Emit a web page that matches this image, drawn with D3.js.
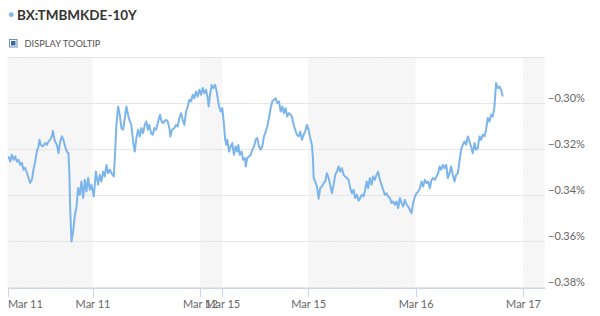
<!DOCTYPE html>
<html lang="en">

<head>
  <meta charset="utf-8">
  <title>BX:TMBMKDE-10Y</title>
  <style>
    body {
      margin: 0;
      background: #fff;
      font-family: Lato, "Open Sans", sans-serif;
    }

    .grid line {
      stroke: #e6e6e6;
      shape-rendering: crispEdges;
    }

    .ylabel {
      fill: #666;
      font-size: 11px;
    }

    .xaxis path,
    .xaxis line {
      stroke: #ccd6eb;
      shape-rendering: crispEdges;
    }

    .xaxis text {
      fill: #666;
      font-size: 11px;
      font-family: Lato, sans-serif;
    }
  </style>
</head>

<body>
  <div id="chart"></div>
</body>
<script src="https://cdnjs.cloudflare.com/ajax/libs/d3/7.8.5/d3.min.js"></script>

<script>

  // hours since the first session, yield in %
  let hours = [
    0.22, 0.60, 0.98, 1.34, 1.72, 2.10, 2.46, 2.84, 3.21, 3.57,
    3.95, 4.33, 5.07, 5.45, 5.80, 6.18, 6.56, 6.92, 7.14, 7.46,
    7.90, 8.42, 8.80, 9.15, 9.53, 9.91, 10.14, 10.43, 10.65, 11.03,
    11.39, 11.77, 12.15, 12.50, 12.88, 13.26, 13.62, 13.84, 14.00, 14.29,
    14.67, 15.05, 15.40, 15.78, 16.16, 16.52, 16.90, 17.28, 17.64, 18.02,
    18.40, 18.75, 19.29, 19.74, 20.25, 20.63, 20.99, 21.37, 21.75, 22.10,
    22.48, 22.86, 23.22, 23.75, 23.98, 24.34, 24.72, 25.09, 25.45, 25.83,
    26.21, 26.57, 26.95, 27.33, 27.68, 28.06, 28.44, 28.80, 29.18, 29.56,
    29.92, 30.30, 30.68, 31.03, 31.35, 31.70, 32.08, 32.46, 32.82, 33.20,
    33.58, 34.09, 34.32, 34.69, 35.05, 35.43, 35.81, 36.17, 36.39, 36.77,
    37.28, 37.66, 38.04, 38.40, 38.78, 39.16, 39.52, 39.90, 40.28, 40.63,
    41.01, 41.39, 41.75, 42.13, 42.51, 42.87, 43.25, 43.62, 43.98, 44.36,
    44.74, 44.96, 45.25, 45.63, 45.99, 46.37, 46.75, 47.20, 47.64, 48.00,
    48.38, 48.60, 48.89, 49.12, 49.50, 49.88, 50.23, 50.61, 50.99, 51.35,
    51.57, 51.89, 52.33, 52.62, 53.07, 53.23, 53.58, 53.96, 54.34, 54.70,
    55.08, 55.46, 55.82, 56.19, 56.57, 56.93, 57.31, 57.69, 58.05, 58.43,
    58.81, 59.16, 59.54, 59.92, 60.28, 60.66, 61.04, 61.40, 61.78, 62.16,
    62.51, 62.89, 63.27, 63.56, 63.94, 64.30, 64.68, 65.06, 65.42, 65.80,
    66.17, 66.53, 66.91, 67.29, 67.65, 68.03, 68.25, 68.41, 68.77, 69.15,
    69.53, 69.88, 70.26, 70.64, 71.00, 71.38, 71.76, 72.11, 72.49, 72.87,
    73.23, 73.61, 73.99, 74.35, 74.73, 75.10, 75.46, 75.84, 76.22, 76.58,
    76.96, 77.34, 77.70, 78.08, 78.46, 78.81, 79.19, 79.57, 79.93, 80.24,
    80.60, 80.98, 81.36, 81.71, 82.09, 82.47, 82.83, 83.21, 83.59, 83.95,
    84.33, 84.71, 85.06, 85.44, 85.82, 86.18, 86.56, 86.94, 87.30, 87.68,
    88.06, 88.42, 88.80, 89.17, 89.53, 89.91, 90.29, 90.65, 91.03, 91.41,
    91.77, 92.15, 92.53, 92.88, 93.26, 93.64, 94.00, 94.38, 94.76, 95.12,
    95.50, 95.88, 96.24, 96.55, 96.91, 97.29, 97.67, 98.03, 98.41, 98.79,
    99.13, 99.51, 99.89, 100.25, 100.63, 101.00, 101.36, 101.74, 102.12, 102.48,
    102.86, 103.24, 103.60, 103.98, 104.36, 104.71, 105.09, 105.47, 105.83, 106.21,
    106.59, 106.94, 107.32, 107.70, 108.06, 108.44, 108.82, 109.17, 109.55, 109.93,
    110.29, 110.67
  ];

  let yields = [
    -0.3230, -0.3252, -0.3223, -0.3245, -0.3230, -0.3253, -0.3245, -0.3267, -0.3258, -0.3288,
    -0.3280, -0.3301, -0.3345, -0.3332, -0.3288, -0.3252, -0.3209, -0.3187, -0.3158, -0.3180,
    -0.3187, -0.3172, -0.3180, -0.3165, -0.3158, -0.3143, -0.3119, -0.3150, -0.3165, -0.3180,
    -0.3216, -0.3165, -0.3143, -0.3158, -0.3187, -0.3209, -0.3216, -0.3310, -0.3453, -0.3600,
    -0.3557, -0.3484, -0.3453, -0.3367, -0.3397, -0.3339, -0.3410, -0.3332, -0.3383, -0.3323,
    -0.3375, -0.3353, -0.3404, -0.3296, -0.3353, -0.3310, -0.3339, -0.3296, -0.3317, -0.3267,
    -0.3303, -0.3288, -0.3303, -0.3317, -0.3237, -0.3093, -0.3013, -0.3049, -0.3107, -0.3114,
    -0.3063, -0.3013, -0.3049, -0.3078, -0.3093, -0.3165, -0.3209, -0.3150, -0.3114, -0.3143,
    -0.3107, -0.3129, -0.3093, -0.3078, -0.3114, -0.3093, -0.3129, -0.3136, -0.3107, -0.3114,
    -0.3085, -0.3049, -0.3071, -0.3085, -0.3078, -0.3071, -0.3078, -0.3107, -0.3143, -0.3114,
    -0.3107, -0.3093, -0.3100, -0.3063, -0.3042, -0.3071, -0.3093, -0.3035, -0.3013, -0.2984,
    -0.2991, -0.2962, -0.2977, -0.2948, -0.2970, -0.2940, -0.2962, -0.2933, -0.2955, -0.2940,
    -0.2977, -0.3013, -0.2962, -0.2919, -0.2933, -0.2919, -0.2948, -0.3006, -0.3035, -0.3020,
    -0.3093, -0.3150, -0.3180, -0.3158, -0.3209, -0.3187, -0.3172, -0.3223, -0.3187, -0.3209,
    -0.3180, -0.3223, -0.3209, -0.3245, -0.3237, -0.3274, -0.3237, -0.3230, -0.3223, -0.3201,
    -0.3187, -0.3158, -0.3150, -0.3187, -0.3201, -0.3187, -0.3143, -0.3122, -0.3100, -0.3063,
    -0.3020, -0.2991, -0.2984, -0.2977, -0.2998, -0.2991, -0.3035, -0.3013, -0.3042, -0.3020,
    -0.3057, -0.3042, -0.3049, -0.3057, -0.3093, -0.3114, -0.3136, -0.3143, -0.3122, -0.3158,
    -0.3136, -0.3122, -0.3093, -0.3114, -0.3150, -0.3180, -0.3237, -0.3324, -0.3339, -0.3361,
    -0.3414, -0.3368, -0.3361, -0.3346, -0.3339, -0.3303, -0.3324, -0.3353, -0.3390, -0.3353,
    -0.3310, -0.3296, -0.3274, -0.3296, -0.3281, -0.3310, -0.3317, -0.3324, -0.3332, -0.3368,
    -0.3390, -0.3375, -0.3411, -0.3397, -0.3423, -0.3411, -0.3397, -0.3404, -0.3375, -0.3339,
    -0.3368, -0.3324, -0.3353, -0.3317, -0.3332, -0.3310, -0.3296, -0.3332, -0.3353, -0.3375,
    -0.3397, -0.3390, -0.3404, -0.3411, -0.3433, -0.3426, -0.3440, -0.3426, -0.3455, -0.3411,
    -0.3433, -0.3448, -0.3419, -0.3440, -0.3448, -0.3462, -0.3477, -0.3433, -0.3404, -0.3390,
    -0.3383, -0.3368, -0.3339, -0.3361, -0.3332, -0.3346, -0.3339, -0.3368, -0.3332, -0.3324,
    -0.3332, -0.3317, -0.3303, -0.3274, -0.3288, -0.3267, -0.3281, -0.3267, -0.3324, -0.3303,
    -0.3274, -0.3310, -0.3339, -0.3310, -0.3303, -0.3252, -0.3201, -0.3180, -0.3165, -0.3180,
    -0.3143, -0.3165, -0.3187, -0.3216, -0.3172, -0.3201, -0.3194, -0.3143, -0.3158, -0.3136,
    -0.3143, -0.3114, -0.3063, -0.3078, -0.3049, -0.3057, -0.3013, -0.2911, -0.2933, -0.2926,
    -0.2940, -0.2970
  ];

  let tickHours = [0, 19, 43, 48, 67.2, 91.2, 115.2];
  let tickLabels = ["Mar 11", "Mar 11", "Mar 12", "Mar 15", "Mar 15", "Mar 16", "Mar 17"];
  let offHours = [[0, 19], [43, 48], [67.2, 91.2], [115.2, 120]];
  let yTicks = [-0.38, -0.36, -0.34, -0.32, -0.30, -0.28];

  let W = 600, H = 316;
  let marginLeft = 7.5, marginTop = 57.5, w = 537, h = 230;

  let svg = d3.select("#chart")
    .append("svg")
    .attr("width", W)
    .attr("height", H);

  // dotted texture for off-session bands
  let pat = svg.append("defs").append("pattern")
    .attr("id", "dots")
    .attr("width", 3)
    .attr("height", 3)
    .attr("patternUnits", "userSpaceOnUse");
  pat.append("rect").attr("width", 3).attr("height", 3).attr("fill", "#f9f9f9");
  pat.append("rect").attr("width", 1).attr("height", 1).attr("fill", "#eeeeee");
  pat.append("rect").attr("x", 2).attr("y", 1).attr("width", 1).attr("height", 1).attr("fill", "#f1f1f1");
  pat.append("rect").attr("x", 1).attr("y", 2).attr("width", 1).attr("height", 1).attr("fill", "#f0f0f0");

  // header
  svg.append("circle")
    .attr("cx", 11.3)
    .attr("cy", 14.7)
    .attr("r", 2.4)
    .attr("fill", "#7cb5ec");

  svg.append("text")
    .attr("x", 17)
    .attr("y", 19.5)
    .attr("fill", "#333")
    .style("font-size", "13.5px")
    .style("font-weight", "bold")
    .text("BX:TMBMKDE-10Y");

  svg.append("rect")
    .attr("x", 9.5)
    .attr("y", 39.5)
    .attr("width", 7.5)
    .attr("height", 7.5)
    .attr("fill", "#fff")
    .attr("stroke", "#6f8fb0");
  svg.append("rect")
    .attr("x", 11)
    .attr("y", 41)
    .attr("width", 4.5)
    .attr("height", 4.5)
    .attr("fill", "#2f6aa3");

  svg.append("text")
    .attr("x", 24.5)
    .attr("y", 47)
    .attr("fill", "#555")
    .style("font-size", "9.3px")
    .text("DISPLAY TOOLTIP");

  let x = d3.scaleLinear().domain([0, 120]).range([0, w]);
  let y = d3.scaleLinear().domain([-0.38, -0.28]).range([h, 0]);

  let g = svg.append("g")
    .attr("transform", "translate(" + marginLeft + "," + marginTop + ")");

  g.selectAll(".band")
    .data(offHours)
    .enter()
    .append("rect")
    .attr("class", "band")
    .attr("x", (d) => { return x(d[0]) })
    .attr("width", (d) => { return x(d[1]) - x(d[0]) })
    .attr("y", 0)
    .attr("height", h)
    .attr("fill", "url(#dots)");

  g.append("g")
    .attr("class", "grid")
    .selectAll("line")
    .data(yTicks)
    .enter()
    .append("line")
    .attr("x1", 0)
    .attr("x2", w)
    .attr("y1", (d) => { return y(d) })
    .attr("y2", (d) => { return y(d) });

  let fmt = d3.format(".2f");
  g.selectAll(".ylabel")
    .data(yTicks.filter((d) => { return d < -0.29 }))
    .enter()
    .append("text")
    .attr("class", "ylabel")
    .attr("x", w + 3.5)
    .attr("y", (d) => { return y(d) - 2 })
    .text((d) => { return fmt(d) + "%" });

  let xAxis = g.append("g")
    .attr("class", "xaxis")
    .attr("transform", "translate(0," + h + ")")
    .call(d3.axisBottom(x)
      .tickValues(tickHours)
      .tickFormat((d, i) => { return tickLabels[i] })
      .tickSize(9)
      .tickSizeOuter(0)
      .tickPadding(4));

  xAxis.select(".domain").attr("d", "M0,0.5H" + w);
  xAxis.selectAll(".tick text")
    .attr("text-anchor", (d, i) => { return i == 0 ? "start" : "middle" });

  let line = d3.line()
    .x((d, i) => { return x(hours[i]) })
    .y((d) => { return y(d) });

  g.append("path")
    .datum(yields)
    .attr("fill", "none")
    .attr("stroke", "#7cb5ec")
    .attr("stroke-width", 2)
    .attr("stroke-linejoin", "round")
    .attr("d", line);

</script>

</html>
